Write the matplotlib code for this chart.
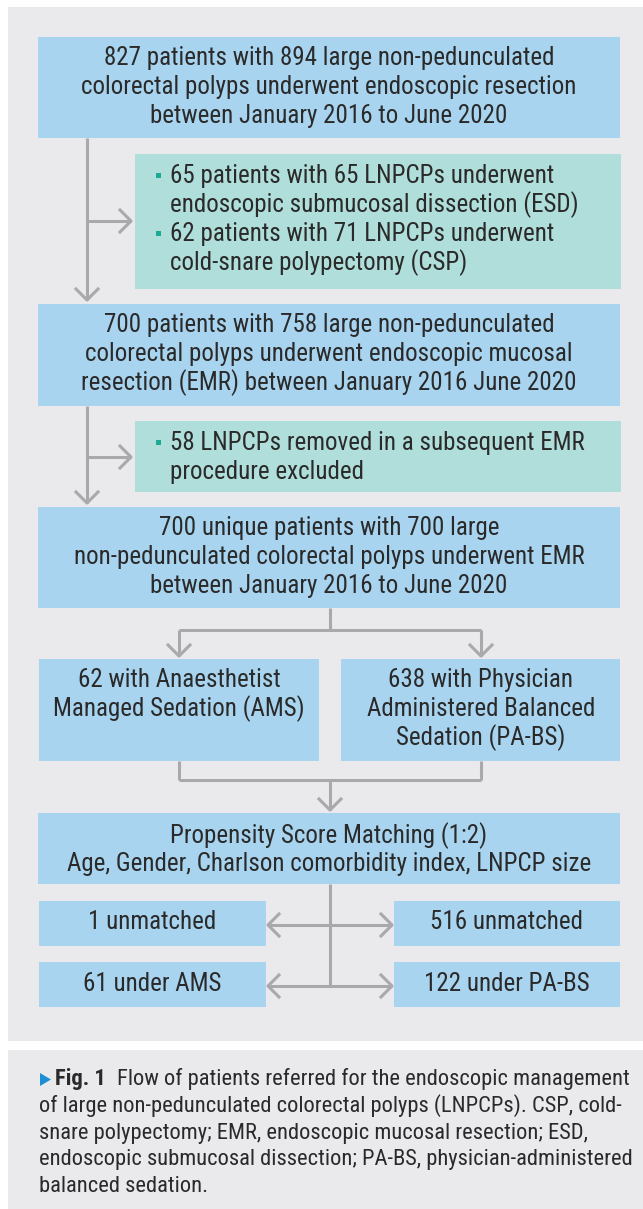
import matplotlib
matplotlib.use("Agg")
import matplotlib.pyplot as plt
from matplotlib.patches import Rectangle, Polygon
from matplotlib import font_manager

# ---------------- data ----------------
box1_lines = ["827 patients with 894 large non-pedunculated",
              "colorectal polyps underwent endoscopic resection",
              "between January 2016 to June 2020"]
excl1_lines = [("\u25aa", "65 patients with 65 LNPCPs underwent"),
               ("", "endoscopic submucosal dissection (ESD)"),
               ("\u25aa", "62 patients with 71 LNPCPs underwent"),
               ("", "cold-snare polypectomy (CSP)")]
box2_lines = ["700 patients with 758 large non-pedunculated",
              "colorectal polyps underwent endoscopic mucosal",
              "resection (EMR) between January 2016 June 2020"]
excl2_lines = [("\u25aa", "58 LNPCPs removed in a subsequent EMR"),
               ("", "procedure excluded")]
box3_lines = ["700 unique patients with 700 large",
              "non-pedunculated colorectal polyps underwent EMR",
              "between January 2016 to June 2020"]
ams_lines = ["62 with Anaesthetist", "Managed Sedation (AMS)"]
pabs_lines = ["638 with Physician", "Administered Balanced", "Sedation (PA-BS)"]
psm_lines = ["Propensity Score Matching (1:2)",
             "Age, Gender, Charlson comorbidity index, LNPCP size"]
unmatched_labels = ["1 unmatched", "516 unmatched"]
matched_labels = ["61 under AMS", "122 under PA-BS"]
caption_bold = "Fig. 1"
caption_lines = ["Flow of patients referred for the endoscopic management",
                 "of large non-pedunculated colorectal polyps (LNPCPs). CSP, cold-",
                 "snare polypectomy; EMR, endoscopic mucosal resection; ESD,",
                 "endoscopic submucosal dissection; PA-BS, physician-administered",
                 "balanced sedation."]

# ---------------- style ----------------
def pick_font(cands):
    for c in cands:
        try:
            font_manager.findfont(font_manager.FontProperties(family=c), fallback_to_default=False)
            return c
        except Exception:
            pass
    return "DejaVu Sans"

FONT = pick_font(["Liberation Sans Narrow", "Roboto Condensed", "Roboto"])
plt.rcParams['font.family'] = [FONT, 'DejaVu Sans']

BG = "#EAEAED"
BLUE = "#A8D4EF"
GREEN = "#B0DEDA"
LINE = "#A9A9AB"
TXT = "#2A2A2A"
BULLET = "#1BAA94"
TRI = "#1E8FD5"
FS = 18
CFS = 16.2

W, H = 643, 1209
fig = plt.figure(figsize=(W / 100, H / 100), dpi=100)
ax = fig.add_axes([0, 0, 1, 1])
ax.set_xlim(0, W)
ax.set_ylim(H, 0)
ax.axis("off")

def rect(x0, y0, x1, y1, color):
    ax.add_patch(Rectangle((x0, y0), x1 - x0, y1 - y0, facecolor=color, edgecolor="none", zorder=1))

def centered(lines, cx, y0, step=29):
    for i, s in enumerate(lines):
        ax.text(cx, y0 + i * step, s, ha="center", va="baseline", fontsize=FS, color=TXT, zorder=3)

def bullets(lines, xb, xt, y0, step=29):
    for i, (b, s) in enumerate(lines):
        y = y0 + i * step
        if b:
            ax.add_patch(Rectangle((xb, y - 10), 5, 5, facecolor=BULLET, edgecolor="none", zorder=3))
        ax.text(xt, y, s, ha="left", va="baseline", fontsize=FS, color=TXT, zorder=3)

def line(xs, ys):
    ax.plot(xs, ys, color=LINE, lw=2.2, solid_capstyle="butt", zorder=2)

def head(x, y, direction, size=11):
    if direction == "down":
        ax.plot([x - size, x, x + size], [y - size, y, y - size], color=LINE, lw=2.2, zorder=2)
    elif direction == "right":
        ax.plot([x - size, x, x - size], [y - size, y, y + size], color=LINE, lw=2.2, zorder=2)
    elif direction == "left":
        ax.plot([x + size, x, x + size], [y - size, y, y + size], color=LINE, lw=2.2, zorder=2)

# panels
rect(8, 7, W, 1041, BG)
rect(8, 1050, W, H, BG)

# boxes
rect(38, 37, 620, 138, BLUE)
rect(135, 154, 621, 289, GREEN)
rect(38, 304, 620, 406, BLUE)
rect(135, 421, 621, 492, GREEN)
rect(38, 507, 620, 608, BLUE)
rect(39, 659, 319, 761, BLUE)
rect(341, 659, 620, 761, BLUE)
rect(38, 813, 620, 884, BLUE)
rect(39, 901, 266, 946, BLUE)
rect(394, 901, 620, 946, BLUE)
rect(39, 962, 266, 1007, BLUE)
rect(394, 962, 620, 1007, BLUE)

# connectors
line([87, 87], [138, 300]); head(87, 300, "down")
line([87, 131], [221, 221]); head(131, 221, "right")
line([87, 87], [406, 503]); head(87, 503, "down")
line([87, 131], [457, 457]); head(131, 457, "right")
line([330, 330], [608, 630])
line([179, 481], [630, 630])
line([179, 179], [630, 656]); head(179, 656, "down")
line([481, 481], [630, 656]); head(481, 656, "down")
line([179, 179], [761, 780]); line([481, 481], [761, 780])
line([179, 481], [780, 780])
line([330, 330], [780, 810]); head(330, 810, "down")
line([330, 330], [884, 986])
for yy in (925, 986):
    line([268, 392], [yy, yy])
    head(268, yy, "left")
    head(392, yy, "right")

# texts
centered(box1_lines, 329, 65)
bullets(excl1_lines, 156, 170, 183)
centered(box2_lines, 329, 332)
bullets(excl2_lines, 156, 170, 450)
centered(box3_lines, 329, 535)
centered(ams_lines, 179, 687)
centered(pabs_lines, 481, 687)
centered(psm_lines, 329, 843, step=28)
for lbl, cx in zip(unmatched_labels, (152, 507)):
    ax.text(cx, 929, lbl, ha="center", va="baseline", fontsize=FS, color=TXT, zorder=3)
for lbl, cx in zip(matched_labels, (152, 507)):
    ax.text(cx, 991, lbl, ha="center", va="baseline", fontsize=FS, color=TXT, zorder=3)

# caption
ax.add_patch(Polygon([[40, 1073], [40, 1086], [51, 1079.5]], closed=True, facecolor=TRI, edgecolor="none", zorder=3))
ax.text(55, 1085, caption_bold, ha="left", va="baseline", fontsize=CFS, color=TXT, fontweight="bold", zorder=3)
ax.text(117, 1085, caption_lines[0], ha="left", va="baseline", fontsize=CFS, color=TXT, zorder=3)
for i, s in enumerate(caption_lines[1:]):
    ax.text(39, 1112 + i * 26.7, s, ha="left", va="baseline", fontsize=CFS, color=TXT, zorder=3)

fig.savefig("out.png", dpi=100, facecolor="white")
